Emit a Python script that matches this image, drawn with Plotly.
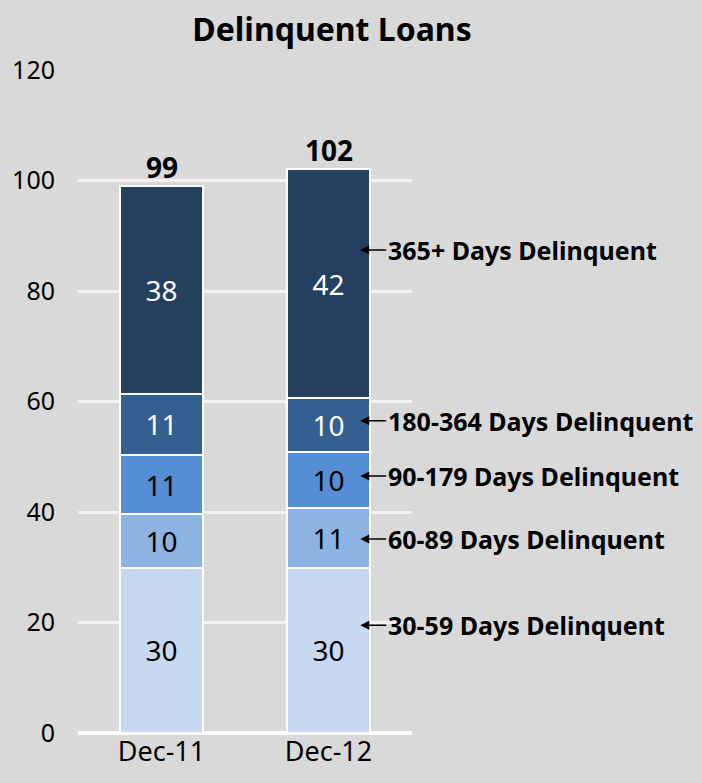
import plotly.graph_objects as go

periods = ["Dec-11", "Dec-12"]

buckets = ["30-59 Days Delinquent", "60-89 Days Delinquent", "90-179 Days Delinquent",
           "180-364 Days Delinquent", "365+ Days Delinquent"]

values = {
    "30-59 Days Delinquent": [29.9, 29.9],
    "60-89 Days Delinquent": [9.7, 10.8],
    "90-179 Days Delinquent": [10.7, 10.2],
    "180-364 Days Delinquent": [11.1, 9.7],
    "365+ Days Delinquent": [37.6, 41.5],
}

totals = [99, 102]

# where each callout arrow points on the Dec-12 bar
label_pos = [19.5, 35.1, 46.5, 56.5, 87.4]

colors = ["#c6d9f0", "#8db3e2", "#558ed5", "#335f91", "#243f60"]
text_colors = ["black", "black", "black", "white", "white"]

FONT = "Noto Sans"

fig = go.Figure()

for b, c, tc in zip(buckets, colors, text_colors):
    fig.add_trace(go.Bar(
        x=periods, y=values[b], name=b,
        marker=dict(color=c, line=dict(color="white", width=2)),
        width=0.5,
        texttemplate="%{y:.0f}", textposition="inside", insidetextanchor="middle",
        textfont=dict(color=tc, size=28, family=FONT),
        textangle=0,
        showlegend=False,
    ))

for p, t in zip(periods, totals):
    fig.add_annotation(x=p, y=t, text="<b>%d</b>" % t, showarrow=False,
                       yanchor="bottom", yshift=-2,
                       font=dict(size=28, color="black", family=FONT))

for b, yy in zip(buckets, label_pos):
    fig.add_annotation(x=1.19, y=yy, text="<b>%s</b>" % b, showarrow=True,
                       ax=26, ay=0, xanchor="left",
                       arrowhead=2, arrowsize=1.2, arrowwidth=1.5, arrowcolor="black",
                       font=dict(size=25, color="black", family=FONT))

fig.update_layout(
    width=702, height=783,
    barmode="stack",
    paper_bgcolor="#d9d9d9", plot_bgcolor="#d9d9d9",
    margin=dict(l=76, r=290, t=70, b=50),
    title=dict(text="<b>Delinquent Loans</b>", x=332 / 702, xanchor="center",
               y=1 - 30 / 783, yanchor="middle",
               font=dict(size=32, color="black", family=FONT)),
    font=dict(family=FONT, color="black"),
)

fig.update_xaxes(range=[-0.5, 1.5], showgrid=False, tickfont=dict(size=27),
                 ticks="", showline=False)
fig.update_yaxes(range=[0, 120], dtick=20, gridcolor="#f2f2f2", gridwidth=3,
                 zeroline=True, zerolinecolor="white", zerolinewidth=4,
                 tickfont=dict(size=25), ticklabelstandoff=22)

fig.write_html("out.html", config={"displayModeBar": False},
               post_script="document.body.style.margin='0px';")
